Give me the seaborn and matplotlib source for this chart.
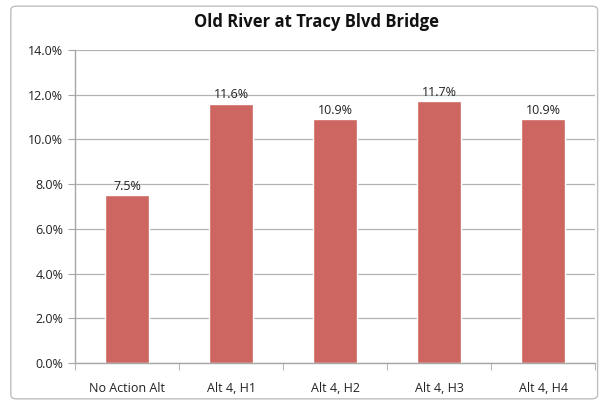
import matplotlib
matplotlib.use("Agg")
import matplotlib.pyplot as plt
import seaborn as sns
import pandas as pd
from matplotlib.patches import FancyBboxPatch
from matplotlib.ticker import FuncFormatter, FixedLocator

# --- Data ---
categories = ["No Action Alt", "Alt 4, H1", "Alt 4, H2", "Alt 4, H3", "Alt 4, H4"]
values = [7.5, 11.6, 10.9, 11.7, 10.9]
df = pd.DataFrame({"alt": categories, "pct": values})

sns.set_style("white")
plt.rcParams["font.family"] = ["Open Sans", "DejaVu Sans"]

fig = plt.figure(figsize=(6.0, 4.07), dpi=100)
ax = fig.add_axes([0.125, 0.108, 0.867, 0.769])

# outer chart border
fig.patches.append(FancyBboxPatch((0.018, 0.02), 0.978, 0.965,
                                  boxstyle="round,pad=0,rounding_size=0.01",
                                  transform=fig.transFigure, fill=False,
                                  edgecolor="#BFBFBF", linewidth=1.0))

sns.barplot(data=df, x="alt", y="pct", color="#CD6660", width=0.42,
            saturation=1, ax=ax)

# data labels
for i, v in enumerate(values):
    ax.text(i, v + 0.12, f"{v:.1f}%", ha="center", va="bottom", fontsize=9,
            color="#222222")

ax.set_ylim(0, 14)
ax.set_xlim(-0.5, len(categories) - 0.5)
ax.set_yticks([0, 2, 4, 6, 8, 10, 12, 14])
ax.yaxis.set_major_formatter(FuncFormatter(lambda y, _: f"{y:.1f}%"))
ax.yaxis.grid(True, color="#B3B3B3", linewidth=0.9)
ax.set_axisbelow(True)
ax.set_xlabel("")
ax.set_ylabel("")

# category boundary ticks
ax.xaxis.set_minor_locator(FixedLocator([i - 0.5 for i in range(len(categories) + 1)]))
ax.tick_params(axis="x", which="major", length=0, pad=14, labelsize=9, colors="#222222")
ax.tick_params(axis="x", which="minor", length=5, color="#A6A6A6", bottom=True)
ax.tick_params(axis="y", length=5, color="#A6A6A6", labelsize=9, colors="#222222", left=True)

for s in ["top", "right"]:
    ax.spines[s].set_visible(False)
for s in ["left", "bottom"]:
    ax.spines[s].set_color("#A6A6A6")
    ax.spines[s].set_linewidth(1.0)

fig.text(0.527, 0.945, "Old River at Tracy Blvd Bridge", ha="center", va="center",
         fontsize=12, fontweight="bold", color="#111111")

fig.savefig("out.png", dpi=100)
